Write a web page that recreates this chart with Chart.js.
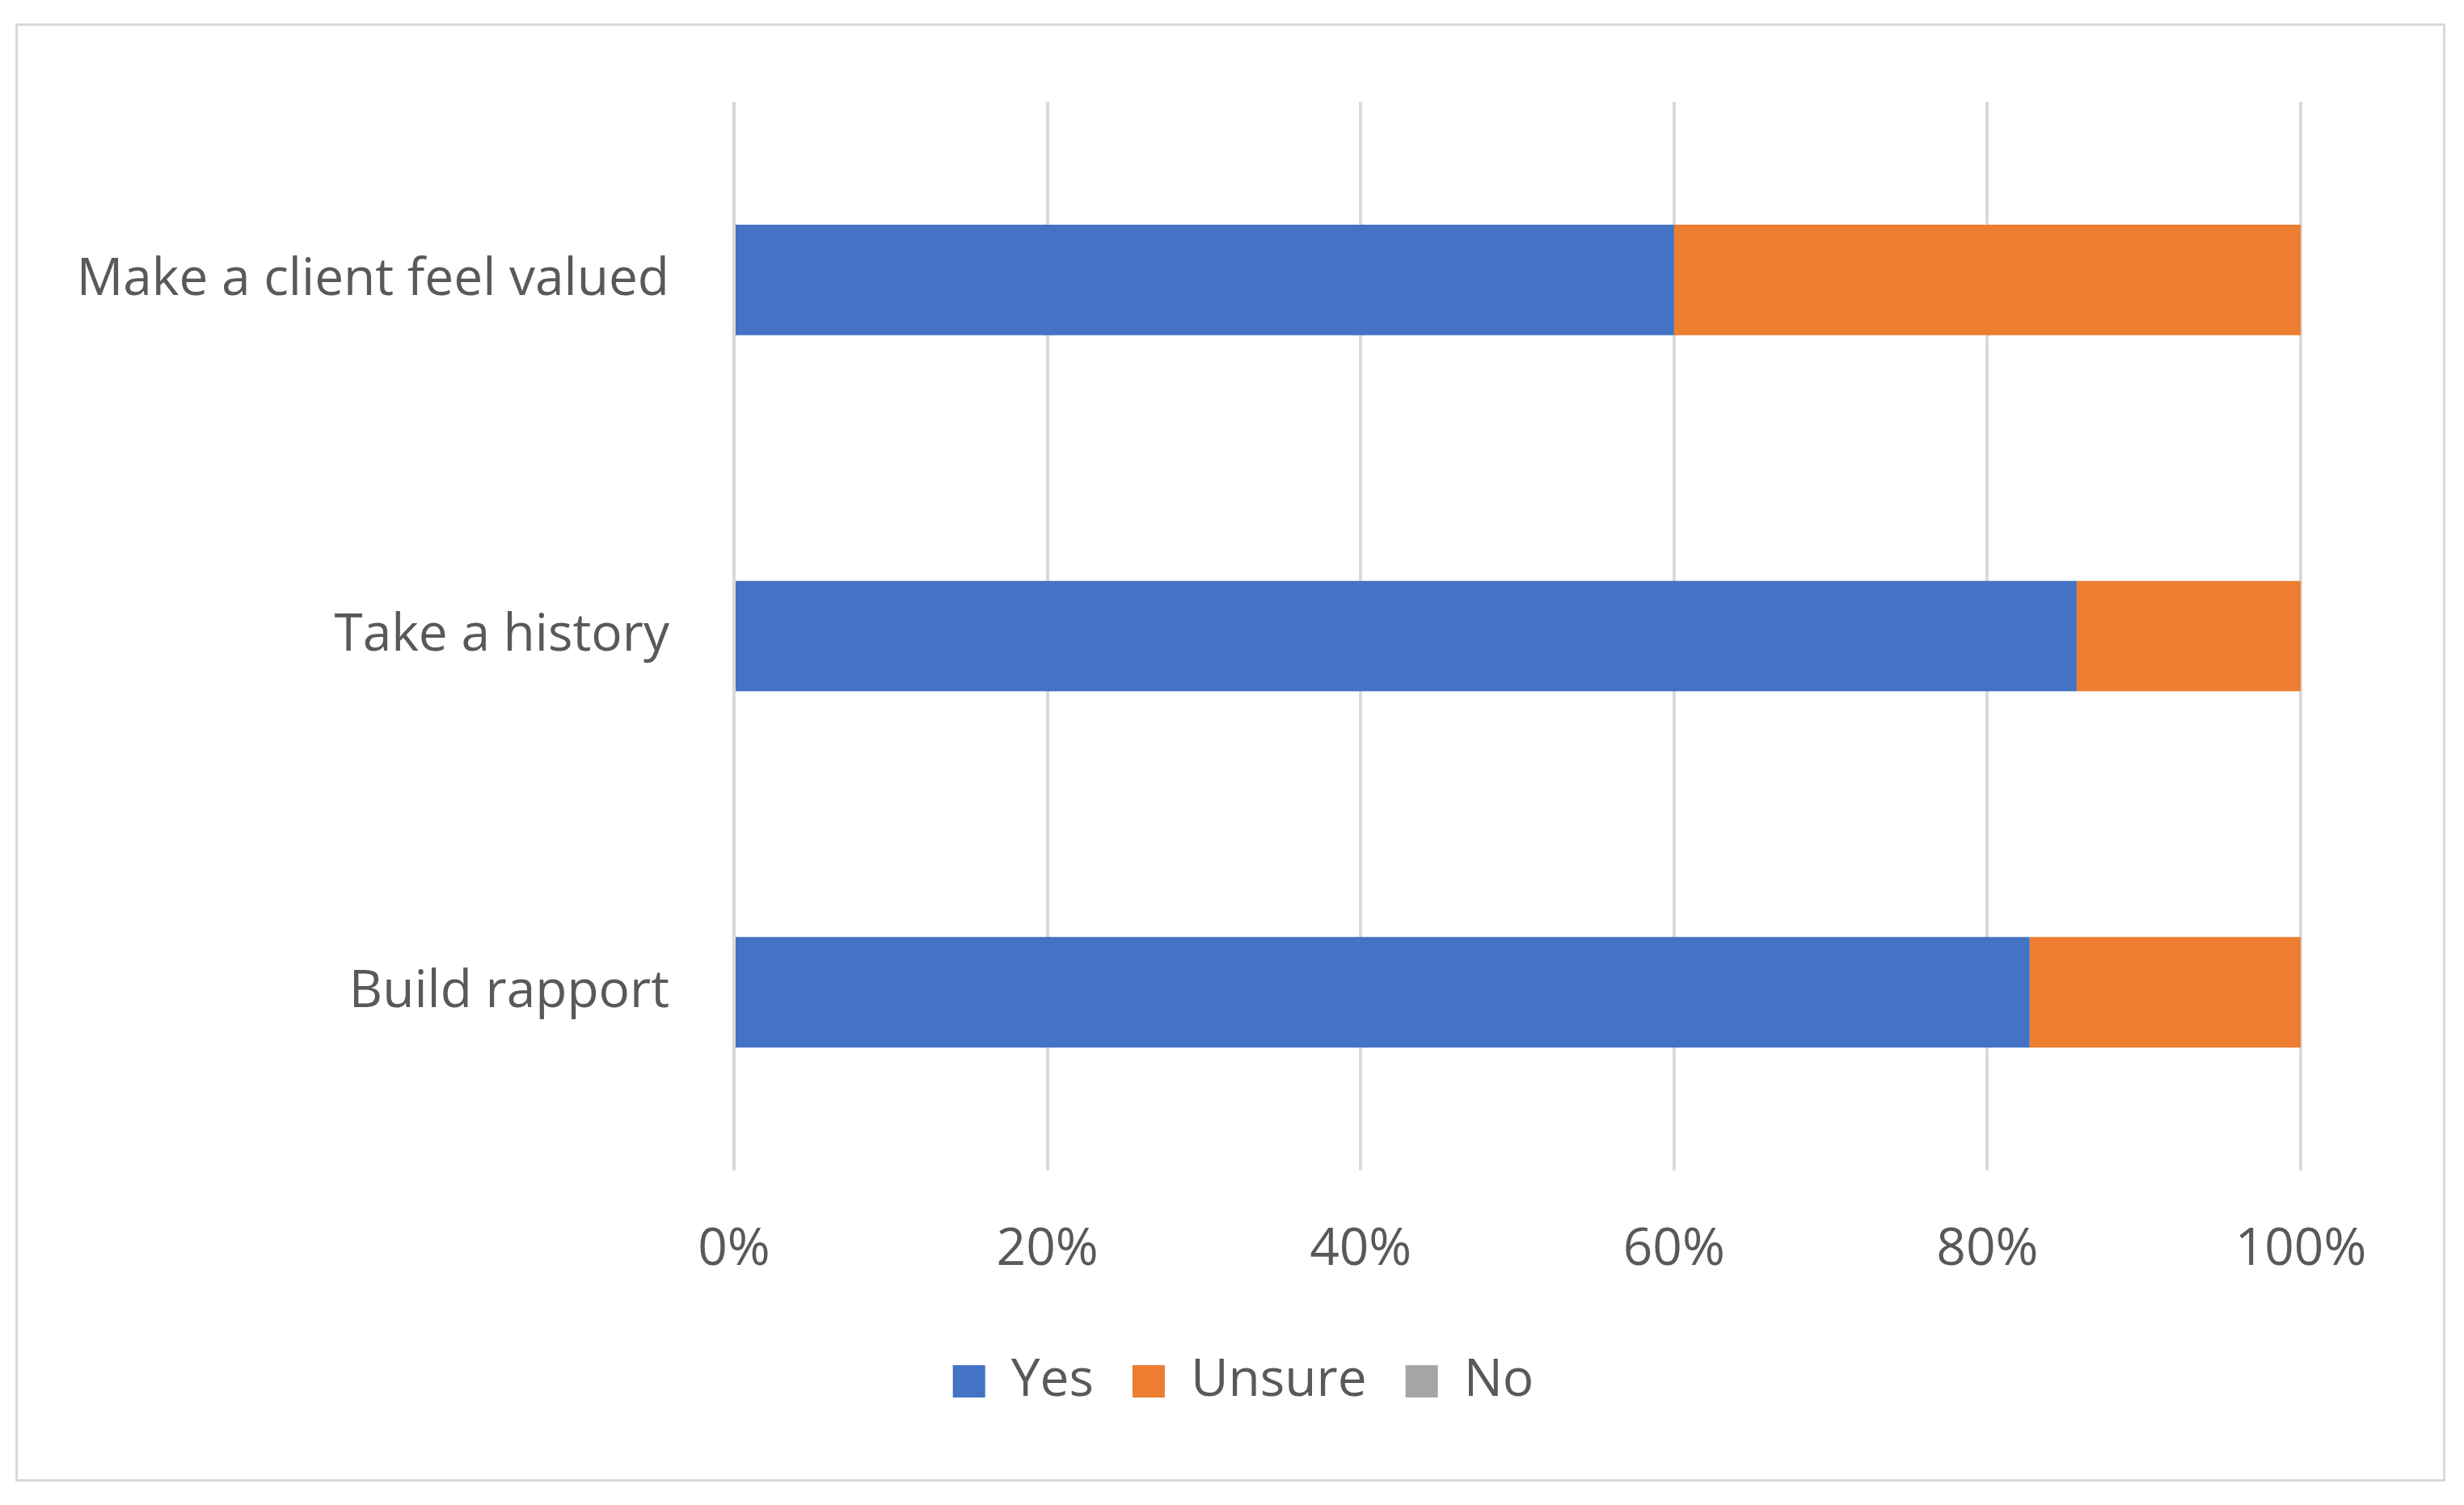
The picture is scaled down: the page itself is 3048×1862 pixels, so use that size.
<!DOCTYPE html>
<html>
<head>
<meta charset="utf-8">
<script src="https://cdn.jsdelivr.net/npm/chart.js@4.4.1/dist/chart.umd.min.js"></script>
<style>
  html, body { margin: 0; padding: 0; background: #ffffff; }
  #frame { position: absolute; left: 19px; top: 29px; width: 3000px; height: 1798px; border: 3px solid #d9d9d9; }
  #wrap { position: absolute; left: 0; top: 0; width: 3048px; height: 1862px; }
</style>
</head>
<body>
<div id="frame"></div>
<div id="wrap"><canvas id="c" width="3048" height="1862"></canvas></div>
<script>
const categories = ["Make a client feel valued", "Take a history", "Build rapport"];
const seriesNames = ["Yes", "Unsure", "No"];
const yesValues = [60, 85.7, 82.7];
const unsureValues = [40, 14.3, 17.3];
const noValues = [0, 0, 0];
const xTicks = [0, 20, 40, 60, 80, 100];

const FONT = "'Open Sans', 'DejaVu Sans', sans-serif";
const TEXT = "#595959";

// Center the legend on the whole frame rather than on the padded layout box
const legendShift = {
  id: 'legendShift',
  afterLayout(chart) {
    const lg = chart.legend;
    if (!lg) return;
    const frameCenter = 1538;
    const cur = (lg.left + lg.right) / 2;
    const d = frameCenter - cur;
    lg.left += d; lg.right += d;
  }
};

new Chart(document.getElementById('c'), {
  type: 'bar',
  data: {
    labels: categories,
    datasets: [
      { label: seriesNames[0], data: yesValues, backgroundColor: '#4472C4' },
      { label: seriesNames[1], data: unsureValues, backgroundColor: '#ED7D31' },
      { label: seriesNames[2], data: noValues, backgroundColor: '#A5A5A5' }
    ]
  },
  options: {
    indexAxis: 'y',
    responsive: false,
    animation: false,
    devicePixelRatio: 1,
    layout: { padding: { top: 126, right: 202, bottom: 111, left: 0 } },
    datasets: { bar: { barPercentage: 0.31, categoryPercentage: 1.0 } },
    scales: {
      x: {
        stacked: true,
        min: 0, max: 100,
        afterBuildTicks: (axis) => { axis.ticks = xTicks.map(v => ({ value: v })); },
        afterFit: (axis) => { axis.height = 181; },
        grid: { color: '#d9d9d9', lineWidth: 4, drawTicks: false },
        border: { display: false },
        ticks: {
          padding: 60,
          color: TEXT,
          font: { family: FONT, size: 64 },
          callback: (v) => v + '%'
        }
      },
      y: {
        stacked: true,
        afterFit: (axis) => { axis.width = 908; },
        grid: { display: false, drawTicks: false },
        border: { display: false },
        ticks: {
          padding: 80,
          color: TEXT,
          font: { family: FONT, size: 64 }
        }
      }
    },
    plugins: {
      tooltip: { enabled: false },
      legend: {
        position: 'bottom',
        labels: {
          boxWidth: 40,
          boxHeight: 40,
          padding: 48,
          color: TEXT,
          font: { family: FONT, size: 64 }
        }
      }
    }
  },
  plugins: [legendShift]
});
</script>
</body>
</html>
